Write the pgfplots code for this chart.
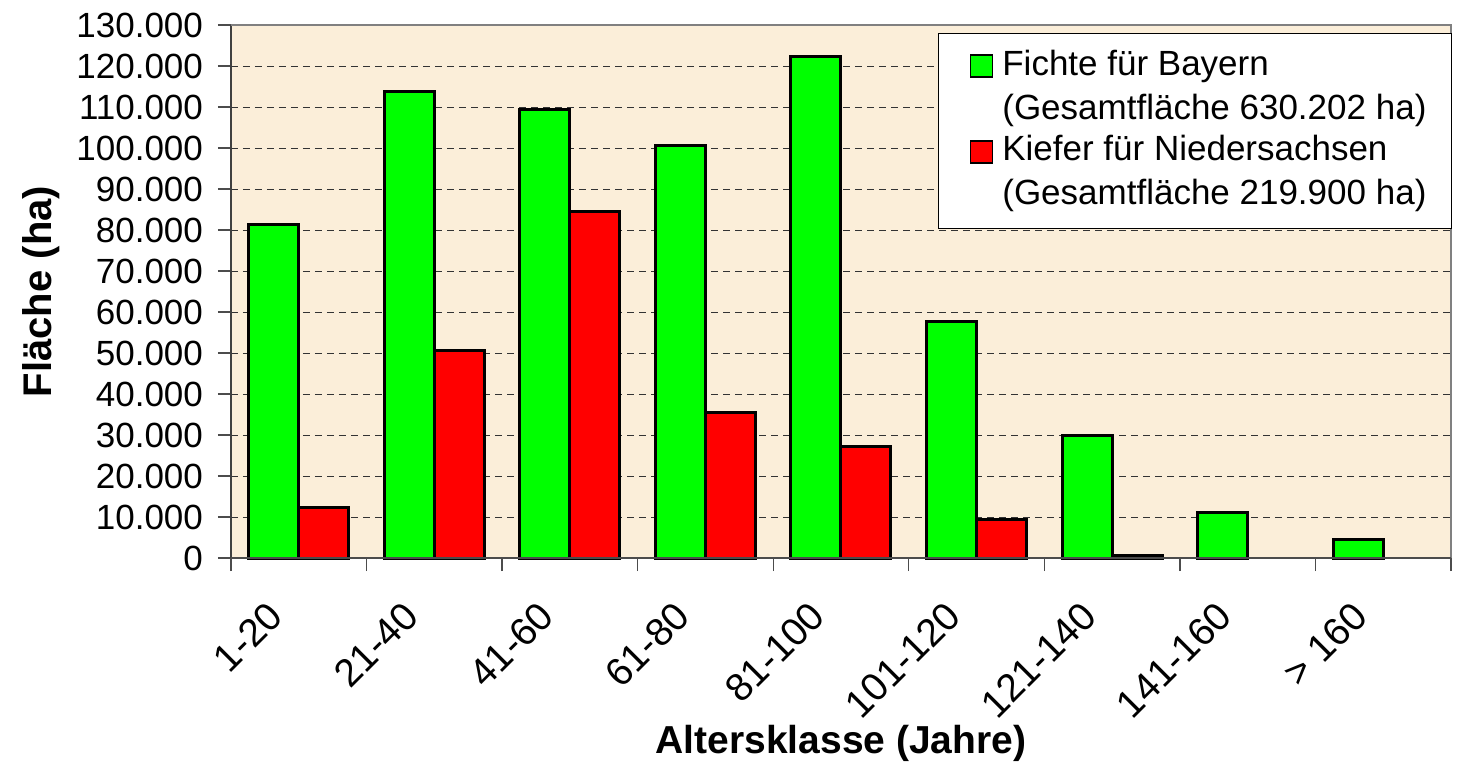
\documentclass[border=0pt]{standalone}
\usepackage{pgfplots}
\pgfplotsset{compat=1.18}
\usepackage{fontspec}
\setmainfont{Liberation Sans}
\definecolor{bgbeige}{RGB}{251,238,217}
\definecolor{bargreen}{RGB}{0,255,0}
\definecolor{barred}{RGB}{255,0,0}
\begin{document}
\begin{tikzpicture}
\useasboundingbox (-115.5pt,-104.5pt) rectangle (614.5pt,279pt);
\begin{axis}[
  at={(0pt,0pt)}, anchor=south west,
  scale only axis,
  width=610pt, height=266.5pt,
  ybar, bar width=25pt,
  xmin=-0.5, xmax=8.5,
  ymin=0, ymax=130000,
  ytick={0,10000,20000,30000,40000,50000,60000,70000,80000,90000,100000,110000,120000,130000},
  yticklabels={0,10.000,20.000,30.000,40.000,50.000,60.000,70.000,80.000,90.000,100.000,110.000,120.000,130.000},
  minor ytick={0,10000,20000,30000,40000,50000,60000,70000,80000,90000,100000,110000,120000,130000},
  scaled y ticks=false,
  xtick={0,1,2,3,4,5,6,7,8},
  xticklabels={1-20,21-40,41-60,61-80,81-100,101-120,121-140,141-160,> 160},
  minor xtick={-0.5,0.5,1.5,2.5,3.5,4.5,5.5,6.5,7.5,8.5},
  tick align=outside,
  major tick length=0pt,
  minor tick length=6.5pt,
  xtick pos=bottom, ytick pos=left,
  tick style={black!70, line width=0.7pt},
  minor tick style={black!70, line width=0.7pt},
  yticklabel style={font=\fontsize{17.5}{20}\selectfont, xshift=-10.5pt},
  xticklabel style={font=\fontsize{19.5}{22}\selectfont,
      anchor=north east, inner sep=0pt, xshift=-16.5pt, yshift=-20.5pt, rotate=45},
  ymajorgrids=true,
  major grid style={black!80, line width=0.5pt, dash pattern=on 3.5pt off 2.5pt},
  axis background/.style={fill=bgbeige},
  axis line style={draw=none},
  ylabel={\textbf{Fläche (ha)}},
  ylabel style={font=\fontsize{20}{24}\selectfont, at={(axis description cs:-0.1553,0.5)}, anchor=center},
  xlabel={\textbf{Altersklasse (Jahre)}},
  xlabel style={font=\fontsize{19.5}{23}\selectfont, at={(axis description cs:0.5,0)}, anchor=base, yshift=-97.5pt},
  legend style={at={(axis description cs:1,1)}, anchor=north east, xshift=0.5pt, yshift=-4pt,
    draw=black, line width=0.5pt, fill=white,
    font=\fontsize{17.5}{22}\selectfont,
    cells={align=left, anchor=west},
    nodes={inner sep=0pt, text depth={}},
    inner xsep=12.5pt, inner ysep=8.2pt,
    row sep=4.5pt, column sep=4.5pt},
  legend image code/.code={\path[draw=none,fill=none] (-3.5pt,6pt) -- (0pt,6pt);
    \draw[#1, line width=0.8pt] (0pt,5.5pt) rectangle (11pt,16.5pt);},
  every axis plot/.append style={draw=black, line width=1.5pt},
  clip=false,
]
\addplot[fill=bargreen, bar shift=-12.5pt] coordinates {
 (0,81300) (1,113700) (2,109300) (3,100700) (4,122200) (5,57800) (6,30000) (7,11000) (8,4600)};
\addplot[fill=barred, bar shift=12.5pt] coordinates {
 (0,12400) (1,50700) (2,84400) (3,35400) (4,27300) (5,9300) (6,700)};
\legend{{Fichte für Bayern\\(Gesamtfläche 630.202 ha)},{Kiefer für Niedersachsen\\(Gesamtfläche 219.900 ha)}}
\draw[black!75, line width=1pt] (axis description cs:0,0) -- (axis description cs:0,1);
\draw[black!50, line width=1pt] (axis description cs:0,1) -- (axis description cs:1,1) -- (axis description cs:1,0);
\draw[black!70, line width=1pt] (axis description cs:0,0) -- (axis description cs:1,0);
\end{axis}
\end{tikzpicture}
\end{document}
